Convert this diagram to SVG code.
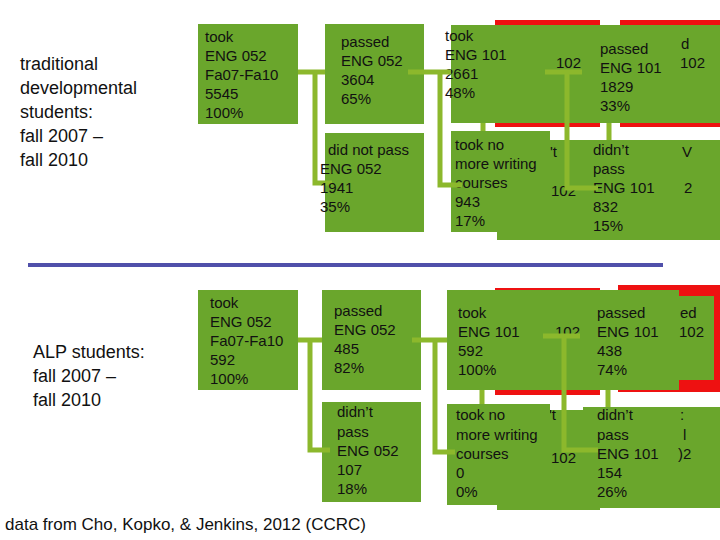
<svg xmlns="http://www.w3.org/2000/svg" width="720" height="540" viewBox="0 0 720 540">
<style>
.b{fill:#6aa62c}
.r{fill:#ee1111}
.t{font-family:"Liberation Sans",Arial,sans-serif;font-size:15px;fill:#111}
.l{font-family:"Liberation Sans",Arial,sans-serif;font-size:18px;fill:#111}
.c{stroke:#8cb82c;stroke-width:5;fill:none}
</style>
<rect width="720" height="540" fill="#fff"/>
<g id="labels">
<text class="l" x="20" y="70">traditional</text>
<text class="l" x="20" y="94">developmental</text>
<text class="l" x="20" y="118">students:</text>
<text class="l" x="20" y="142">fall 2007 –</text>
<text class="l" x="20" y="166">fall 2010</text>
<text class="l" x="33" y="358">ALP students:</text>
<text class="l" x="33" y="382"> fall 2007 –</text>
<text class="l" x="33" y="406">fall 2010</text>
<text class="l" x="5" y="530" style="font-size:17px">data from Cho, Kopko, &amp; Jenkins, 2012 (CCRC)</text>
</g>
<line x1="28" y1="265" x2="663" y2="265" stroke="#5050aa" stroke-width="4"/>
<g id="top-back">
<rect class="r" x="495" y="20" width="105" height="107"/>
<rect class="r" x="620" y="20" width="100" height="107"/>
<rect class="b" x="497" y="140" width="100" height="100"/>
</g>
<g id="t1"><rect class="b" x="198" y="24" width="100" height="100"/>
<text class="t" x="205" y="42">took</text><text class="t" x="205" y="61">ENG 052</text><text class="t" x="205" y="80">Fa07-Fa10</text><text class="t" x="205" y="99">5545</text><text class="t" x="205" y="118">100%</text></g>
<g id="t2"><rect class="b" x="325" y="24" width="99" height="100"/>
<text class="t" x="341" y="47">passed</text><text class="t" x="341" y="66">ENG 052</text><text class="t" x="341" y="85">3604</text><text class="t" x="341" y="104">65%</text></g>
<g id="t3"><rect class="b" x="325" y="133" width="99" height="99"/></g>
<g id="t4"><rect class="b" x="451" y="25" width="269" height="98"/>
<text class="t" x="445" y="41">took</text><text class="t" x="445" y="60">ENG 101</text><text class="t" x="445" y="79">2661</text><text class="t" x="445" y="98">48%</text>
<text class="t" x="556" y="68">102</text>
<text class="t" x="600" y="54">passed</text><text class="t" x="600" y="73">ENG 101</text><text class="t" x="600" y="92">1829</text><text class="t" x="600" y="111">33%</text>
<text class="t" x="681" y="49">d</text><text class="t" x="680" y="68">102</text></g>
<g id="t6"><rect class="b" x="583" y="140" width="137" height="100"/>
<text class="t" x="593" y="155">didn’t</text><text class="t" x="593" y="174">pass</text><text class="t" x="593" y="193">ENG 101</text><text class="t" x="593" y="212">832</text><text class="t" x="593" y="231">15%</text>
<text class="t" x="682" y="157">V</text><text class="t" x="684" y="193">2</text></g>
<g id="t7"><text class="t" x="550" y="157">'t</text><text class="t" x="551" y="196">102</text></g>
<g id="t5"><rect class="b" x="451" y="131" width="99" height="101"/>
<text class="t" x="455" y="150">took no</text><text class="t" x="455" y="169">more writing</text><text class="t" x="455" y="188">courses</text><text class="t" x="455" y="207">943</text><text class="t" x="455" y="226">17%</text></g>
<g id="bottom-back">
<rect class="r" x="495" y="288" width="105" height="107"/>
<rect class="r" x="618" y="285" width="102" height="107"/>
<rect class="b" x="497" y="410" width="103" height="100"/>
</g>
<g id="b1"><rect class="b" x="198" y="290" width="100" height="100"/>
<text class="t" x="210" y="308">took</text><text class="t" x="210" y="327">ENG 052</text><text class="t" x="210" y="346">Fa07-Fa10</text><text class="t" x="210" y="365">592</text><text class="t" x="210" y="384">100%</text></g>
<g id="b2"><rect class="b" x="322" y="290" width="99" height="100"/>
<text class="t" x="334" y="316">passed</text><text class="t" x="334" y="335">ENG 052</text><text class="t" x="334" y="354">485</text><text class="t" x="334" y="373">82%</text></g>
<g id="b3"><rect class="b" x="322" y="402" width="99" height="100"/></g>
<g id="b4"><rect class="b" x="447" y="290" width="232" height="100"/><rect class="b" x="618" y="296" width="96" height="84"/>
<text class="t" x="458" y="318">took</text><text class="t" x="458" y="337">ENG 101</text><text class="t" x="458" y="356">592</text><text class="t" x="458" y="375">100%</text>
<text class="t" x="555" y="337">102</text>
<text class="t" x="597" y="318">passed</text><text class="t" x="597" y="337">ENG 101</text><text class="t" x="597" y="356">438</text><text class="t" x="597" y="375">74%</text>
<text class="t" x="680" y="318">ed</text><text class="t" x="679" y="337">102</text></g>
<g id="b6"><rect class="b" x="583" y="407" width="137" height="101"/>
<text class="t" x="597" y="420">didn’t</text><text class="t" x="597" y="440">pass</text><text class="t" x="597" y="459">ENG 101</text><text class="t" x="597" y="478">154</text><text class="t" x="597" y="497">26%</text>
<text class="t" x="680" y="420">:</text><text class="t" x="683" y="440">l</text><text class="t" x="678" y="459">)2</text></g>
<g id="b7"><text class="t" x="549" y="420">'t</text><text class="t" x="551" y="463">102</text></g>
<g id="b5"><rect class="b" x="447" y="404" width="103" height="101"/>
<text class="t" x="456" y="420">took no</text><text class="t" x="456" y="440">more writing</text><text class="t" x="456" y="459">courses</text><text class="t" x="456" y="478">0</text><text class="t" x="456" y="497">0%</text></g>
<g id="connectors">
<path class="c" d="M298 72H325M315 72V183H332"/>
<path class="c" d="M408 72H451M440 72V185H462"/>
<path class="c" d="M483 123V131M545 72H582M567 72V188H598M609 123V140"/>
<path class="c" d="M298 340H322M310 340V450H330"/>
<path class="c" d="M412 340H447M435 340V452H455"/>
<path class="c" d="M482 390V404M543 336H580M564 336V450H598M608 390V407"/>
</g>
<g id="t3-text"><text class="t" x="328" y="155">did not pass</text><text class="t" x="320" y="174">ENG 052</text><text class="t" x="320" y="193">1941</text><text class="t" x="320" y="212">35%</text></g>
<g id="b3-text"><text class="t" x="337" y="417">didn’t</text><text class="t" x="337" y="437">pass</text><text class="t" x="337" y="456">ENG 052</text><text class="t" x="337" y="475">107</text><text class="t" x="337" y="494">18%</text></g>
</svg>
